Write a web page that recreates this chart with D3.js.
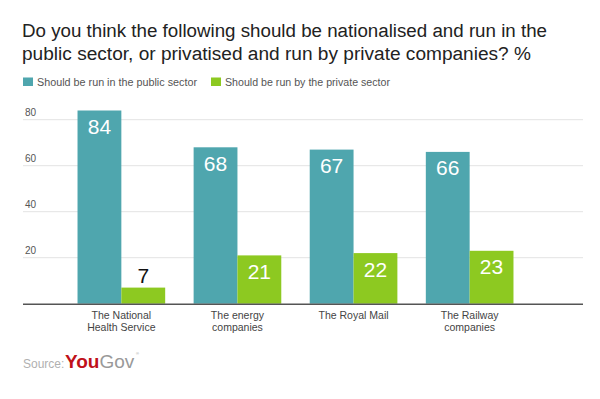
<!DOCTYPE html>
<html>
<head>
<meta charset="utf-8">
<script src="https://cdn.jsdelivr.net/npm/d3@7"></script>
<style>
  body { margin: 0; background: #fff; }
  svg { display: block; font-family: "Liberation Sans", Arial, sans-serif; }
</style>
</head>
<body>
<svg id="chart" width="600" height="399"></svg>
<script>
const categories = [["The National", "Health Service"], ["The energy", "companies"], ["The Royal Mail"], ["The Railway", "companies"]];
const seriesNames = ["Should be run in the public sector", "Should be run by the private sector"];
const publicValues = [84, 68, 67, 66];
const privateValues = [7, 21, 22, 23];
const yTicks = [20, 40, 60, 80];
const colors = ["#4fa6ae", "#8dc921"];

const svg = d3.select("#chart");

// title
const titleLines = ["Do you think the following should be nationalised and run in the",
                    "public sector, or privatised and run by private companies? %"];
const titleLengths = [525, 509];
svg.selectAll(".title").data(titleLines).enter().append("text")
    .attr("class", "title")
    .attr("x", 22).attr("y", (d, i) => 37 + i * 22.7)
    .attr("font-size", 18).attr("fill", "#222")
    .attr("textLength", (d, i) => titleLengths[i])
    .attr("lengthAdjust", "spacingAndGlyphs")
    .text(d => d);

// legend
const legendX = [23, 211];
const legendLengths = [160, 165];
seriesNames.forEach((name, i) => {
    const g = svg.append("g").attr("transform", `translate(${legendX[i]},77.5)`);
    g.append("rect").attr("width", 10).attr("height", 8.5).attr("fill", colors[i]);
    g.append("text").attr("x", 14).attr("y", 8).attr("font-size", 10)
        .attr("fill", "#555")
        .attr("textLength", legendLengths[i]).attr("lengthAdjust", "spacingAndGlyphs")
        .text(name);
});

const y = d3.scaleLinear().domain([0, 80]).range([303.7, 119.7]);

const x = d3.scaleBand()
    .domain(d3.range(categories.length))
    .range([63.3, 527.7])
    .paddingInner(0.245)
    .paddingOuter(0.1225);

const x1 = d3.scaleBand().domain([0, 1]).range([0, x.bandwidth()]);

// gridlines + y labels
const grid = svg.append("g");
yTicks.forEach(t => {
    grid.append("line").attr("x1", 23).attr("x2", 583)
        .attr("y1", y(t)).attr("y2", y(t))
        .attr("stroke", "#e3e3e3").attr("stroke-width", 1);
    grid.append("text").attr("x", 25).attr("y", y(t) - 4)
        .attr("font-size", 10).attr("fill", "#555").text(t);
});

// bars
const data = categories.map((c, i) => ({ i, values: [publicValues[i], privateValues[i]] }));
const groups = svg.selectAll(".grp").data(data).enter().append("g")
    .attr("class", "grp")
    .attr("transform", d => `translate(${x(d.i)},0)`);

groups.selectAll("rect").data(d => d.values).enter().append("rect")
    .attr("x", (v, j) => x1(j))
    .attr("width", x1.bandwidth())
    .attr("y", v => y(v))
    .attr("height", v => y(0) - y(v))
    .attr("fill", (v, j) => colors[j]);

groups.selectAll(".val").data(d => d.values).enter().append("text")
    .attr("class", "val")
    .attr("x", (v, j) => x1(j) + x1.bandwidth() / 2)
    .attr("y", v => (y(0) - y(v) > 30 ? y(v) + 23.5 : y(v) - 5))
    .attr("text-anchor", "middle")
    .attr("font-size", 21)
    .attr("fill", v => (y(0) - y(v) > 30 ? "#fff" : "#111"))
    .text(v => v);

// baseline
svg.append("line").attr("x1", 23).attr("x2", 583)
    .attr("y1", y(0) + 0.5).attr("y2", y(0) + 0.5)
    .attr("stroke", "#555").attr("stroke-width", 1.5);

// category labels
groups.each(function(d) {
    const t = d3.select(this).append("text")
        .attr("x", x.bandwidth() / 2).attr("y", 318.5)
        .attr("text-anchor", "middle").attr("font-size", 10.5).attr("fill", "#444");
    categories[d.i].forEach((line, k) => {
        t.append("tspan").attr("x", x.bandwidth() / 2).attr("dy", k ? 12.5 : 0).text(line);
    });
});

// source
svg.append("text").attr("x", 23).attr("y", 367.5).attr("font-size", 12)
    .attr("fill", "#b0b0b0").text("Source:");
const logo = svg.append("text").attr("x", 65).attr("y", 367.5)
    .attr("font-size", 19);
logo.append("tspan").attr("fill", "#c0111a").attr("font-weight", "bold").text("You");
logo.append("tspan").attr("fill", "#999").text("Gov");
svg.append("text").attr("x", 136).attr("y", 355).attr("font-size", 4)
    .attr("fill", "#999").text("®");
</script>
</body>
</html>
